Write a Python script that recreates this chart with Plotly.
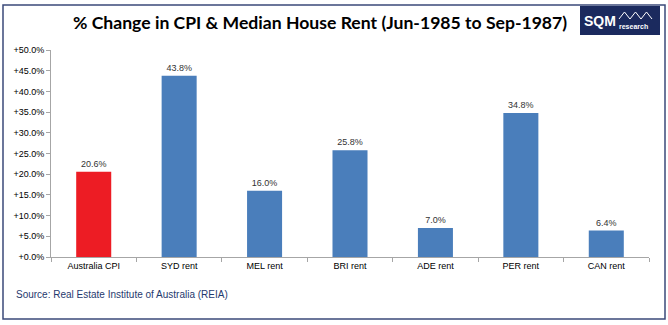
import plotly.graph_objects as go

categories = ["Australia CPI", "SYD rent", "MEL rent", "BRI rent", "ADE rent", "PER rent", "CAN rent"]
values = [20.6, 43.8, 16.0, 25.8, 7.0, 34.8, 6.4]
bar_colors = ["#ED1C24", "#4A7EBB", "#4A7EBB", "#4A7EBB", "#4A7EBB", "#4A7EBB", "#4A7EBB"]
tick_vals = [0, 5, 10, 15, 20, 25, 30, 35, 40, 45, 50]
tick_text = ["+%.1f%%" % v for v in tick_vals]

W, H = 668, 325
L, R, T, B = 51, 19, 50, 68
PW, PH = W - L - R, H - T - B

def px(x):
    return (x - L) / PW

def py(y):
    return (H - B - y) / PH

fig = go.Figure()
fig.add_trace(go.Bar(
    x=categories, y=values, marker=dict(color=bar_colors, line=dict(width=0)),
    text=["%.1f%%" % v for v in values], textposition="outside",
    textfont=dict(family="Liberation Sans", size=9, color="#333333"),
    cliponaxis=False, width=0.41,
))

zig_x = [619, 624.5, 630, 635.5, 641, 646.5, 652]
zig_y = [19, 12, 19, 12, 19, 12, 19]
zig_path = "M " + " L ".join("%f,%f" % (px(a), py(b)) for a, b in zip(zig_x, zig_y))

shapes = [
    # outer border
    dict(type="rect", xref="paper", yref="paper", x0=px(3), x1=px(665), y0=py(319), y1=py(5),
         line=dict(color="#3B4A7A", width=1.5), fillcolor="rgba(0,0,0,0)", layer="below"),
    # logo box
    dict(type="rect", xref="paper", yref="paper", x0=px(580), x1=px(660), y0=py(35), y1=py(6),
         line=dict(width=0), fillcolor="#1B2A5E"),
    # zigzag triangles
    dict(type="path", xref="paper", yref="paper", path=zig_path,
         line=dict(color="white", width=1)),
]

annotations = [
    dict(text="<b>% Change in CPI & Median House Rent (Jun-1985 to Sep-1987)</b>",
         xref="paper", yref="paper", x=px(320), y=py(22), xanchor="center", yanchor="middle",
         showarrow=False, font=dict(family="Lato", size=17.6, color="#000000")),
    dict(text="<b>SQM</b>", xref="paper", yref="paper", x=px(582), y=py(21),
         xanchor="left", yanchor="middle", showarrow=False,
         font=dict(family="Liberation Sans", size=14, color="white")),
    dict(text="<b>research</b>", xref="paper", yref="paper", x=px(617), y=py(27),
         xanchor="left", yanchor="middle", showarrow=False,
         font=dict(family="Liberation Sans", size=7, color="white")),
    dict(text="Source: Real Estate Institute of Australia (REIA)", xref="paper", yref="paper",
         x=px(14), y=py(294), xanchor="left", yanchor="middle", showarrow=False,
         font=dict(family="Liberation Sans", size=10, color="#1F3A6E")),
]

fig.update_layout(
    width=W, height=H, margin=dict(l=L, r=R, t=T, b=B),
    paper_bgcolor="white", plot_bgcolor="white", showlegend=False,
    shapes=shapes, annotations=annotations,
    xaxis=dict(showline=True, linecolor="#A6A6A6", linewidth=1, ticks="outside",
               tickcolor="#A6A6A6", ticklen=4, tickson="boundaries",
               tickfont=dict(family="Liberation Sans", size=9, color="#000000"),
               showgrid=False, fixedrange=True),
    yaxis=dict(range=[0, 50], tickvals=tick_vals, ticktext=tick_text, showline=True,
               linecolor="#A6A6A6", linewidth=1, ticks="outside", tickcolor="#A6A6A6", ticklen=4,
               tickfont=dict(family="Liberation Sans", size=9, color="#000000"),
               showgrid=False, zeroline=False, fixedrange=True),
)

fig.write_html("out.html")
